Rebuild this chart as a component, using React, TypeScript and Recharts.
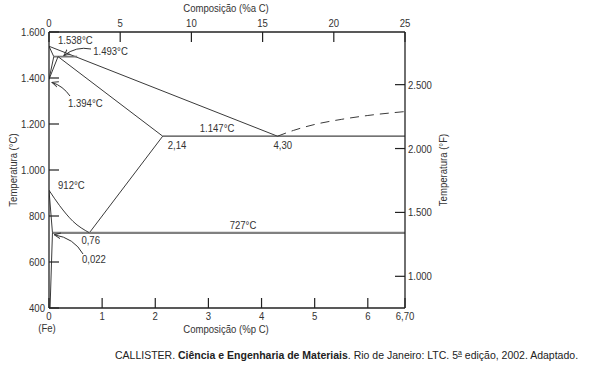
import { ComposedChart, Line, XAxis, YAxis } from "recharts"

// Composition (wt% C) / temperature (°C) points
const liquidus = [
  { x: 0, t: 1538 },
  { x: 4.3, t: 1147 },
]
const liquidusFe3C = [
  { x: 4.3, t: 1147 },
  { x: 4.6, t: 1172 },
  { x: 5.0, t: 1198 },
  { x: 5.5, t: 1220 },
  { x: 6.0, t: 1237 },
  { x: 6.7, t: 1254 },
]
const deltaSolidus = [
  { x: 0, t: 1538 },
  { x: 0.09, t: 1493 },
]
const peritectic = [
  { x: 0.09, t: 1493 },
  { x: 0.53, t: 1493 },
]
const deltaGammaLeft = [
  { x: 0, t: 1394 },
  { x: 0.09, t: 1493 },
]
const deltaGammaRight = [
  { x: 0, t: 1394 },
  { x: 0.17, t: 1493 },
]
const gammaSolidus = [
  { x: 0.17, t: 1493 },
  { x: 2.14, t: 1147 },
]
const eutectic = [
  { x: 2.14, t: 1147 },
  { x: 6.7, t: 1147 },
]
const acm = [
  { x: 0.76, t: 727 },
  { x: 2.14, t: 1147 },
]
const a3 = [
  { x: 0, t: 912 },
  { x: 0.2, t: 845 },
  { x: 0.45, t: 777 },
  { x: 0.76, t: 727 },
]
const eutectoid = [
  { x: 0.065, t: 727 },
  { x: 6.7, t: 727 },
]
const alphaBoundary = [
  { x: 0, t: 912 },
  { x: 0.065, t: 727 },
  { x: 0.02, t: 400 },
]

const bottomTicks = [0, 1, 2, 3, 4, 5, 6, 6.7]
const topTicks = [0, 5, 10, 15, 20, 25]
const celsiusTicks = [400, 600, 800, 1000, 1200, 1400, 1600]
const fahrenheitTicks = [1000, 1500, 2000, 2500]

// plot box (matches chart margins + axis sizes below)
const PLOT = { left: 49, top: 32, width: 356, height: 276 }
const px = (c: number) => PLOT.left + (c / 6.7) * PLOT.width
const py = (t: number) => PLOT.top + ((1600 - t) / 1200) * PLOT.height

const FONT = "'Liberation Sans', Arial, sans-serif"
const INK = "#333"

const thousands = (v: number) =>
  String(Math.round(v)).replace(/\B(?=(\d{3})+(?!\d))/g, ".")
const comma = (v: number) =>
  Number.isInteger(v) ? String(v) : v.toFixed(2).replace(".", ",")

// the figure uses a narrow sans, so squeeze Liberation Sans a bit
function NText({ x, y, anchor = "start", children, rotate = 0, size = 11 }: any) {
  return (
    <text
      transform={`translate(${x},${y}) rotate(${rotate}) scale(0.87,1)`}
      textAnchor={anchor}
      fontSize={size}
      fill={INK}
      fontFamily={FONT}
    >
      {children}
    </text>
  )
}

function LeftTick({ x, y, payload }: any) {
  return (
    <g>
      <line x1={x} y1={y} x2={x + 10} y2={y} stroke="#222" strokeWidth={1.2} />
      <NText x={x - 4} y={y + 4} anchor="end">{thousands(payload.value)}</NText>
    </g>
  )
}

function RightTick({ x, y, payload }: any) {
  return (
    <g>
      <line x1={x} y1={y} x2={x - 10} y2={y} stroke="#222" strokeWidth={1.2} />
      <NText x={x + 3} y={y + 4}>{thousands(payload.value)}</NText>
    </g>
  )
}

function BottomTick({ x, y, payload }: any) {
  return (
    <g>
      <line x1={x} y1={y} x2={x} y2={y - 10} stroke="#222" strokeWidth={1.2} />
      <NText x={x} y={y + 12} anchor="middle">{comma(payload.value)}</NText>
    </g>
  )
}

function TopTick({ x, y, payload }: any) {
  return (
    <g>
      <line x1={x} y1={y} x2={x} y2={y + 10} stroke="#222" strokeWidth={1.2} />
      <NText x={x} y={y - 5} anchor="middle">{payload.value}</NText>
    </g>
  )
}

const thin = { stroke: "#3a3a3a", strokeWidth: 1 }

// invisible helper series so the atom% axis gets its domain
const topAxisAnchor = topTicks.map((a) => ({ a, t: 1600 }))

export default function App() {
  const series: [any[], any][] = [
    [liquidus, thin],
    [deltaSolidus, thin],
    [peritectic, { stroke: "#777", strokeWidth: 1.8 }],
    [deltaGammaLeft, thin],
    [deltaGammaRight, thin],
    [gammaSolidus, thin],
    [eutectic, { stroke: "#444", strokeWidth: 1.3 }],
    [acm, thin],
    [eutectoid, { stroke: "#808080", strokeWidth: 2.2 }],
    [alphaBoundary, thin],
  ]

  return (
    <div style={{ position: "absolute", left: 0, top: 0, width: 593, height: 371, background: "#fff" }}>
      <ComposedChart
        width={593}
        height={371}
        margin={{ top: 12, right: 148, bottom: 33, left: 0 }}
      >
        <XAxis
          xAxisId="wt"
          dataKey="x"
          type="number"
          orientation="bottom"
          domain={[0, 6.7]}
          ticks={bottomTicks}
          interval={0}
          height={30}
          tickSize={0}
          tickMargin={0}
          tickLine={false}
          axisLine={{ stroke: "#222", strokeWidth: 1.3 }}
          tick={<BottomTick />}
          allowDataOverflow
        />
        <XAxis
          xAxisId="at"
          dataKey="a"
          type="number"
          orientation="top"
          domain={[0, 25]}
          ticks={topTicks}
          interval={0}
          height={20}
          tickSize={0}
          tickMargin={0}
          tickLine={false}
          axisLine={{ stroke: "#222", strokeWidth: 1.3 }}
          tick={<TopTick />}
          allowDataOverflow
        />
        <YAxis
          yAxisId="c"
          type="number"
          orientation="left"
          domain={[400, 1600]}
          ticks={celsiusTicks}
          interval={0}
          width={49}
          tickSize={0}
          tickMargin={0}
          tickLine={false}
          axisLine={{ stroke: "#222", strokeWidth: 1.3 }}
          tick={<LeftTick />}
          allowDataOverflow
        />
        <YAxis
          yAxisId="f"
          type="number"
          orientation="right"
          domain={[752, 2912]}
          ticks={fahrenheitTicks}
          interval={0}
          width={40}
          tickSize={0}
          tickMargin={0}
          tickLine={false}
          axisLine={{ stroke: "#222", strokeWidth: 1.3 }}
          tick={<RightTick />}
          allowDataOverflow
        />

        <Line
          xAxisId="at"
          yAxisId="c"
          data={topAxisAnchor}
          dataKey="t"
          stroke="none"
          dot={false}
          activeDot={false}
          isAnimationActive={false}
        />

        {series.map(([data, style], i) => (
          <Line
            key={i}
            xAxisId="wt"
            yAxisId="c"
            data={data}
            dataKey="t"
            type="linear"
            dot={false}
            activeDot={false}
            isAnimationActive={false}
            {...style}
          />
        ))}
        <Line
          xAxisId="wt"
          yAxisId="c"
          data={a3}
          dataKey="t"
          type="monotone"
          dot={false}
          activeDot={false}
          isAnimationActive={false}
          {...thin}
        />
        <Line
          xAxisId="wt"
          yAxisId="c"
          data={liquidusFe3C}
          dataKey="t"
          type="monotone"
          dot={false}
          activeDot={false}
          isAnimationActive={false}
          stroke="#3a3a3a"
          strokeWidth={1}
          strokeDasharray="9 6"
        />
      </ComposedChart>

      <svg
        width={593}
        height={371}
        style={{ position: "absolute", left: 0, top: 0, pointerEvents: "none" }}
      >
        <defs>
          <marker id="arr" viewBox="0 0 10 10" refX="9" refY="5" markerWidth="7" markerHeight="7" orient="auto">
            <path d="M 0 1 L 9 5 L 0 9" fill="none" stroke="#333" strokeWidth={1.4} />
          </marker>
        </defs>

        <NText x={226} y={12} anchor="middle">Composição (%a C)</NText>
        <NText x={226} y={333} anchor="middle">Composição (%p C)</NText>
        <NText x={47} y={332} anchor="middle">(Fe)</NText>
        <NText x={17} y={170} anchor="middle" rotate={-90}>Temperatura (°C)</NText>
        <NText x={447} y={170} anchor="middle" rotate={-90}>Temperatura (°F)</NText>

        <NText x={px(0) + 9} y={py(1538) - 2}>1.538°C</NText>
        <NText x={px(0.53) + 16} y={py(1493) - 2}>1.493°C</NText>
        <NText x={px(0) + 19} y={py(1394) + 28}>1.394°C</NText>
        <NText x={px(0) + 9} y={py(912) - 1}>912°C</NText>
        <NText x={px(0.76) - 8} y={py(727) + 11}>0,76</NText>
        <NText x={px(0) + 33} y={py(727) + 30}>0,022</NText>
        <NText x={px(2.14) + 5} y={py(1147) + 13}>2,14</NText>
        <NText x={px(4.3) - 4} y={py(1147) + 13}>4,30</NText>
        <NText x={px(2.14) + 37} y={py(1147) - 4}>1.147°C</NText>
        <NText x={px(3.4)} y={py(727) - 4}>727°C</NText>

        <path d={`M 91 49 Q 76 46 ${px(0.28)} ${py(1493) - 1}`} fill="none" stroke="#333" strokeWidth={1} markerEnd="url(#arr)" />
        <path d={`M 70 96 Q 63 86 ${px(0) + 3} ${py(1394) + 3}`} fill="none" stroke="#333" strokeWidth={1} markerEnd="url(#arr)" />
        <path d={`M 83 254 Q 74 238 ${px(0.1)} ${py(727) + 2}`} fill="none" stroke="#333" strokeWidth={1} markerEnd="url(#arr)" />

        <text x={115} y={359} fontFamily={FONT} fontSize={10.5} fill="#222">
          CALLISTER. <tspan fontWeight="bold">Ciência e Engenharia de Materiais</tspan>. Rio de Janeiro: LTC. 5
          <tspan fontSize={7} dy={-4} textDecoration="underline">a</tspan>
          <tspan dy={4}> edição, 2002. Adaptado.</tspan>
        </text>
      </svg>
    </div>
  )
}
